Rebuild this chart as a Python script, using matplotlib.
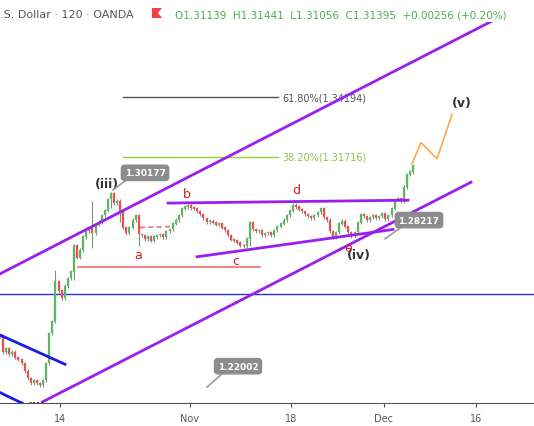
# GBP/USD 2h chart with Elliott wave markup

import numpy as np
import matplotlib.pyplot as plt
from matplotlib.patches import Polygon

# closes of each bar (one bar = 1/3 trading day), first bar at day -6.49 (day 0 = Oct 14)
closes = [1.2425, 1.2358, 1.2374, 1.2350, 1.2358, 1.2334, 1.2326, 1.2311, 1.2279, 1.2248,
          1.2228, 1.2240, 1.2228, 1.2220, 1.2240, 1.2311, 1.2436, 1.2484, 1.2653, 1.2613,
          1.2582, 1.2633, 1.2665, 1.2692, 1.2802, 1.2751, 1.2783, 1.2838, 1.2861, 1.2877,
          1.2853, 1.2889, 1.2900, 1.2928, 1.2948, 1.2995, 1.3018, 1.2979, 1.2987, 1.2948,
          1.2877, 1.2853, 1.2877, 1.2908, 1.2928, 1.2849, 1.2845, 1.2830, 1.2838, 1.2822,
          1.2838, 1.2845, 1.2849, 1.2838, 1.2861, 1.2869, 1.2893, 1.2908, 1.2928, 1.2956,
          1.2963, 1.2967, 1.2959, 1.2956, 1.2944, 1.2932, 1.2916, 1.2900, 1.2904, 1.2897,
          1.2889, 1.2893, 1.2877, 1.2865, 1.2845, 1.2826, 1.2822, 1.2814, 1.2802, 1.2798,
          1.2830, 1.2897, 1.2869, 1.2861, 1.2865, 1.2845, 1.2853, 1.2857, 1.2845, 1.2865,
          1.2881, 1.2893, 1.2908, 1.2928, 1.2948, 1.2971, 1.2963, 1.2952, 1.2944, 1.2932,
          1.2924, 1.2916, 1.2928, 1.2940, 1.2956, 1.2920, 1.2908, 1.2861, 1.2838, 1.2857,
          1.2893, 1.2904, 1.2881, 1.2857, 1.2841, 1.2857, 1.2897, 1.2932, 1.2924, 1.2908,
          1.2920, 1.2928, 1.2916, 1.2924, 1.2936, 1.2912, 1.2928, 1.2956, 1.2995, 1.2999,
          1.2987, 1.3046, 1.3097, 1.3109, 1.3136]
first_day = -6.49
# a few long wicks: bar index, high, low
wicks = [(18, 1.2700, 1.2560), (24, 1.2802, 1.2660), (30, 1.2987, 1.2790),
         (36, 1.3018, 1.2960), (39, 1.2990, 1.2900), (45, 1.2928, 1.2798),
         (81, 1.2897, 1.2800), (95, 1.2975, 1.2940), (108, 1.2860, 1.2832),
         (131, 1.3046, 1.2980)]

# x axis labels (trading days from Oct 14)
tick_days = [0, 14, 25, 35, 45]
tick_labels = ["14", "Nov", "18", "Dec", "16"]

# drawn trend lines (day, price)
upper_channel = ([-6.49, 51.24], [1.2684, 1.3828])
lower_channel = ([-1.9, 44.43], [1.2150, 1.3066])
tri_top = ([11.68, 37.62], [1.2979, 1.2991])
tri_bottom = ([14.81, 36.0], [1.2755, 1.2869])
blue_upper = ([-6.49, 0.54], [1.2429, 1.2307])
blue_lower = ([-6.49, -4.11], [1.2189, 1.2145])
blue_level = 1.2598
red_level = ([1.95, 21.62], [1.2712, 1.2712])
red_dashed = ([8.65, 11.89], [1.2877, 1.2881])
fib_days = [6.81, 23.57]
fib_618 = 1.34194
fib_382 = 1.31716
projection = ([38.05, 39.03, 40.76, 42.38], [1.3144, 1.3231, 1.3164, 1.3349])

W, H = 534, 427
fig = plt.figure(figsize=(W / 100, H / 100), dpi=100)
ax = fig.add_axes([0, 23 / H, 1, 381 / H])
ax.set_xlim(-6.49, 51.24)
ax.set_ylim(1.21455, 1.3734)

# candles
days = first_day + np.arange(len(closes)) / 3
opens = [closes[0]] + closes[:-1]
highs = [max(o, c) + 0.0007 for o, c in zip(opens, closes)]
lows = [min(o, c) - 0.0007 for o, c in zip(opens, closes)]
for i, hi, lo in wicks:
    highs[i] = max(highs[i], hi)
    lows[i] = min(lows[i], lo)
for d, o, c, hi, lo in zip(days, opens, closes, highs, lows):
    col = "#5cb85c" if c >= o else "#e8534f"
    ax.vlines(d, lo, hi, color="#8a8a8a", lw=0.8, zorder=2)
    ax.vlines(d, min(o, c), max(o, c) + 0.0002, color=col, lw=1.6, zorder=3)

# lines
purple = "#9b1ef0"
ax.plot(*upper_channel, color=purple, lw=2, zorder=4)
ax.plot(*lower_channel, color=purple, lw=2, zorder=4)
ax.plot(*tri_top, color=purple, lw=2, zorder=4)
ax.plot(*tri_bottom, color=purple, lw=2, zorder=4)
ax.plot(*blue_upper, color="#1a1ae6", lw=2, zorder=4)
ax.plot(*blue_lower, color="#1a1ae6", lw=2, zorder=4)
ax.axhline(blue_level, color="#2233ee", lw=1, zorder=1)
ax.plot(*red_level, color="#f26d6d", lw=1.2, zorder=4)
ax.plot(*red_dashed, color="#f26d6d", lw=1.2, ls=(0, (3, 2)), zorder=4)
ax.plot(fib_days, [fib_618] * 2, color="#555555", lw=1)
ax.plot(fib_days, [fib_382] * 2, color="#9acd32", lw=1)
ax.text(fib_days[1] + 0.5, fib_618, "61.80%(1.34194)", color="#555555",
        fontsize=7, va="center")
ax.text(fib_days[1] + 0.5, fib_382, "38.20%(1.31716)", color="#8cc63f",
        fontsize=7, va="center")
ax.plot(*projection, color="#ffa64d", lw=1.2, zorder=4)

# wave labels
for d, p, s in [(5.08, 1.3062, "(iii)"), (32.3, 1.2765, "(iv)"),
                (43.46, 1.3400, "(v)"), (-2.5, 1.2127, "(ii)")]:
    ax.text(d, p, s, color="#333333", fontsize=9, fontweight="bold",
            ha="center", va="center", zorder=6, clip_on=True)
for d, p, s in [(8.43, 1.2763, "a"), (13.73, 1.3018, "b"), (19.03, 1.2739, "c"),
                (25.51, 1.3034, "d"), (31.15, 1.2795, "e")]:
    ax.text(d, p, s, color="#d42020", fontsize=9, ha="center", va="center", zorder=7)

# price callouts
for (d, p, s, pd, pp) in [(9.19, 1.3105, "1.30177", (7.24, 5.73), (1.3077, 1.3034)),
                          (38.81, 1.2908, "1.28217", (36.97, 35.14), (1.2881, 1.2830)),
                          (19.24, 1.2299, "1.22002", (17.51, 15.89), (1.2267, 1.2212))]:
    ax.plot(pd, pp, color="#9a9a9a", lw=1.2, zorder=6)
    ax.text(d, p, s, color="white", fontsize=6.5, fontweight="bold",
            ha="center", va="center", zorder=7,
            bbox=dict(boxstyle="round,pad=0.35", fc="#8c8c8c", ec="#8c8c8c"))

# axes styling
for sp in ["top", "left", "right"]:
    ax.spines[sp].set_visible(False)
ax.spines["bottom"].set_color("#555555")
ax.set_yticks([])
ax.set_xticks(tick_days)
ax.set_xticklabels(tick_labels)
ax.tick_params(axis="x", colors="#555555", labelsize=7, length=3, pad=4)

# header
fig.text(0, 1 - 15 / H, ".S. Dollar · 120 · OANDA", color="#555555",
         fontsize=8, va="center")
fig.patches.append(Polygon([[152 / W, 1 - 9 / H], [162 / W, 1 - 9 / H],
                            [158 / W, 1 - 14 / H], [162 / W, 1 - 19 / H],
                            [152 / W, 1 - 19 / H]],
                           closed=True, fc="#f04040", ec="none",
                           transform=fig.transFigure, figure=fig))
fig.text(175 / W, 1 - 15 / H,
         "O1.31139  H1.31441  L1.31056  C1.31395  +0.00256 (+0.20%)",
         color="#4caf50", fontsize=7.5, va="center")

plt.savefig("out.png", dpi=100)
